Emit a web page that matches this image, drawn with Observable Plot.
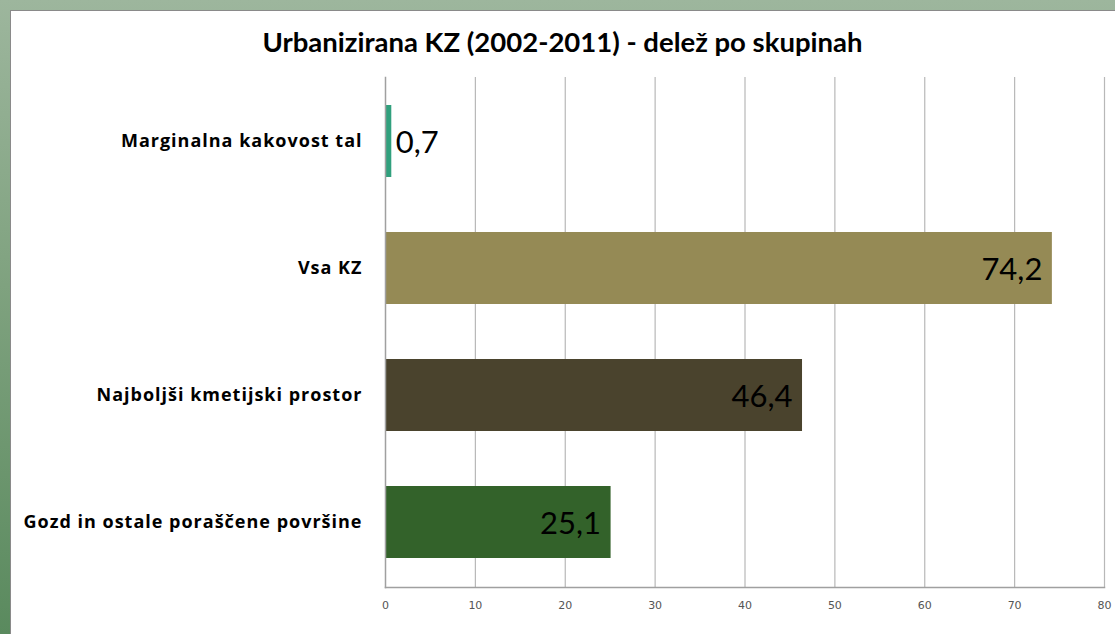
<!DOCTYPE html>
<html>
<head>
<meta charset="utf-8">
<script src="https://cdn.jsdelivr.net/npm/d3@7"></script>
<script src="https://cdn.jsdelivr.net/npm/@observablehq/plot@0.6"></script>
<style>
  html, body { margin: 0; padding: 0; }
  body {
    width: 1115px; height: 634px; overflow: hidden; position: relative;
    background: linear-gradient(to bottom, #9db69d 0%, #7fa27f 45%, #5a8a5e 100%);
  }
  #panel {
    position: absolute; left: 10px; top: 10px; width: 1105px; height: 624px;
    background: #ffffff; border-left: 1px solid #8a8a8a; border-top: 1px solid #8a8a8a;
    box-sizing: border-box;
  }
  #title {
    height: 55px; line-height: 62px; text-align: center;
    font-family: Lato, sans-serif; font-weight: bold; font-size: 27.5px; color: #000;
    margin-left: -1px; white-space: nowrap;
  }
  #chart { position: absolute; left: -1px; top: 55px; }
  #chart g[aria-label="y-axis tick label"] text { letter-spacing: 1px; }
</style>
</head>
<body>
<div id="panel">
  <div id="title">Urbanizirana KZ (2002-2011) - delež po skupinah</div>
  <div id="chart"></div>
</div>
<script>
const categories = [
  "Marginalna kakovost tal",
  "Vsa KZ",
  "Najboljši kmetijski prostor",
  "Gozd in ostale poraščene površine"
];
const values = [0.7, 74.2, 46.4, 25.1];
const colors = ["#31a07d", "#958a55", "#4a432d", "#33622a"];
const xTicks = [0, 10, 20, 30, 40, 50, 60, 70, 80];

const data = categories.map((c, i) => ({category: c, value: values[i], color: colors[i]}));
const fmt = v => v.toFixed(1).replace(".", ",");

const chart = Plot.plot({
  width: 1105,
  height: 569,
  marginTop: 11,
  marginBottom: 48,
  marginLeft: 375,
  marginRight: 11,
  style: {background: "transparent", fontFamily: "Lato, sans-serif"},
  x: {domain: [0, 80], ticks: xTicks, label: null},
  y: {domain: categories, paddingInner: 0.43, paddingOuter: 0.215, label: null},
  marks: [
    Plot.ruleX(xTicks.slice(1), {stroke: "#b8b8b8", strokeWidth: 1.2}),
    Plot.barX(data, {y: "category", x: "value", fill: "color"}),
    Plot.frame({anchor: "left", stroke: "#a0a0a0", strokeWidth: 1.5}),
    Plot.frame({anchor: "bottom", stroke: "#a0a0a0", strokeWidth: 1.5}),
    Plot.text(data.filter(d => d.value > 5), {
      y: "category", x: "value", text: d => fmt(d.value),
      textAnchor: "end", dx: -10, dy: 2, fontSize: 31, fill: "#000", fontFamily: "Lato, sans-serif"
    }),
    Plot.text(data.filter(d => d.value <= 5), {
      y: "category", x: "value", text: d => fmt(d.value),
      textAnchor: "start", dx: 4, dy: 2, fontSize: 31, fill: "#000", fontFamily: "Lato, sans-serif"
    }),
    Plot.axisY({tickSize: 0, tickPadding: 23, fontSize: 18, fontWeight: "bold", fill: "#000", fontFamily: "'Open Sans', sans-serif", label: null}),
    Plot.axisX({ticks: xTicks, tickSize: 0, tickPadding: 14, fontSize: 11, fill: "#555", fontFamily: "DejaVu Sans, sans-serif", label: null})
  ]
});
document.getElementById("chart").appendChild(chart);
</script>
</body>
</html>
